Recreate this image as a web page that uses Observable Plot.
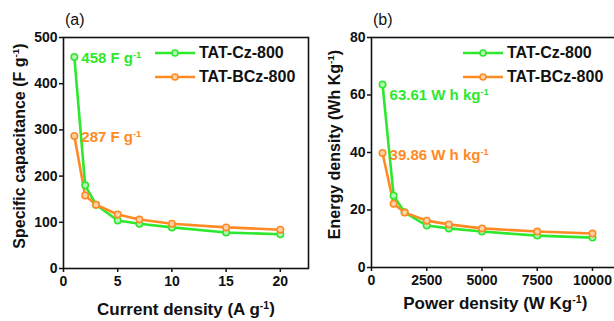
<!DOCTYPE html>
<html>
<head>
<meta charset="utf-8">
<script src="https://cdn.jsdelivr.net/npm/d3@7"></script>
<script src="https://cdn.jsdelivr.net/npm/@observablehq/plot@0.6"></script>
<style>
  body { margin: 0; background: #fff; }
  #wrap { position: relative; width: 614px; height: 321px; overflow: hidden; font-family: "Liberation Sans", Arial, sans-serif; }
  .panel { position: absolute; top: 0; }
  .plabel { position: absolute; font-size: 16px; color: #111; }
  .legend { position: absolute; font-size: 16px; font-weight: bold; color: #111; }
  .legend .row { display: flex; align-items: center; height: 24px; }
  .legend svg { margin-right: 4px; }
</style>
</head>
<body>
<div id="wrap"></div>
<script>
// ---- data ----
const seriesNames = ["TAT-Cz-800", "TAT-BCz-800"];
const seriesColors = ["#2de82d", "#ff8a24"];
const seriesFills = ["#b8f7b8", "#ffd3a8"];

const currentDensity = [1, 2, 3, 5, 7, 10, 15, 20];
const capacitanceCz = [458, 180, 138, 104, 97, 89, 78, 74];
const capacitanceBCz = [287, 158, 138, 117, 106, 97, 89, 84];
const capacitanceNotes = ["458 F g⁻¹", "287 F g⁻¹"];
const capTicks = [0, 100, 200, 300, 400, 500];
const currentTicks = [0, 5, 10, 15, 20];

const powerDensity = [500, 1000, 1500, 2500, 3500, 5000, 7500, 10000];
const energyCz = [63.61, 25, 19.2, 14.6, 13.6, 12.5, 11.1, 10.4];
const energyBCz = [39.86, 22.2, 19.1, 16.3, 15, 13.6, 12.5, 11.8];
const energyNotes = ["63.61 W h kg⁻¹", "39.86 W h kg⁻¹"];
const energyTicks = [0, 20, 40, 60, 80];
const powerTicks = [0, 2500, 5000, 7500, 10000];

// ---- helpers ----
function toRows(xs, ysList) {
  const rows = [];
  ysList.forEach((ys, s) => xs.forEach((x, i) => rows.push({x, y: ys[i], s: seriesNames[s]})));
  return rows;
}
function firstPoints(xs, ysList, notes) {
  return ysList.map((ys, s) => ({x: xs[0], y: ys[0], s: seriesNames[s], note: notes[s]}));
}
function superscripts(svg) {
  svg.querySelectorAll("text").forEach(t => {
    if (t.querySelector("tspan")) {
      t.querySelectorAll("tspan").forEach(sp => fix(sp));
    } else fix(t);
  });
  function fix(node) {
    const txt = node.textContent;
    const i = txt.indexOf("⁻¹");
    if (i < 0) return;
    node.textContent = "";
    const ns = "http://www.w3.org/2000/svg";
    const a = document.createElementNS(ns, "tspan"); a.textContent = txt.slice(0, i);
    const b = document.createElementNS(ns, "tspan"); b.textContent = "-1";
    b.setAttribute("font-size", "0.62em"); b.setAttribute("dy", "-0.55em");
    const c = document.createElementNS(ns, "tspan"); c.textContent = txt.slice(i + 2);
    c.setAttribute("dy", "0.34em");
    node.append(a, b, c);
  }
}
const fontStyle = {fontFamily: "'Liberation Sans', Arial, sans-serif", fontWeight: "bold", fontSize: "14px", color: "#111", background: "transparent", overflow: "visible"};

function panel({rows, firsts, noteDy, xDomain, yDomain, xTicks, yTicks, xLabel, yLabel, marginLeft, marginRight, marginBottom, yLabelOffset, xLabelOffset, yLabelShift}) {
  const colorScale = {domain: seriesNames, range: seriesColors};
  const svg = Plot.plot({
    width: 310, height: 321,
    marginLeft, marginRight, marginTop: 37, marginBottom,
    style: fontStyle,
    x: {domain: xDomain},
    y: {domain: yDomain},
    color: colorScale,
    marks: [
      Plot.frame({stroke: "#111", strokeWidth: 1.6}),
      Plot.axisY({ticks: yTicks, tickSize: 4, tickPadding: 2, tickFormat: d => String(d), label: yLabel, labelAnchor: "center", labelArrow: "none", labelOffset: yLabelOffset, fontSize: 14, strokeWidth: 1.5}),
      Plot.axisX({ticks: xTicks, tickSize: 4, tickPadding: 4, tickFormat: d => String(d), label: xLabel, labelAnchor: "center", labelArrow: "none", labelOffset: xLabelOffset, fontSize: 14, strokeWidth: 1.5}),
      Plot.line(rows, {x: "x", y: "y", z: "s", stroke: "s", strokeWidth: 2.6}),
      Plot.dot(rows, {x: "x", y: "y", stroke: "s", fill: d => seriesFills[seriesNames.indexOf(d.s)], r: 3.2, strokeWidth: 1.6}),
      ...firsts.map((f, i) => Plot.text([f], {x: "x", y: "y", text: "note", fill: "s", textAnchor: "start", dx: 7, dy: noteDy[i], fontSize: 15, fontWeight: "bold"}))
    ]
  });
  svg.querySelectorAll("[aria-label='x-axis label'] text").forEach(t => t.setAttribute("font-size", "17"));
  svg.querySelectorAll("[aria-label='y-axis label'] text").forEach(t => t.setAttribute("font-size", "16"));
  const yl = svg.querySelector("[aria-label='y-axis label']");
  if (yl) {
    const tr = yl.getAttribute("transform") || "";
    yl.setAttribute("transform", `translate(0,${yLabelShift}) ${tr}`);
  }
  superscripts(svg);
  return svg;
}

function legend(left, top) {
  const div = document.createElement("div");
  div.className = "legend";
  div.style.left = left + "px"; div.style.top = top + "px";
  seriesNames.forEach((name, i) => {
    const row = document.createElement("div"); row.className = "row";
    row.innerHTML = `<svg width="40" height="10"><line x1="0" x2="40" y1="5" y2="5" stroke="${seriesColors[i]}" stroke-width="2.6"/><circle cx="20" cy="5" r="3" stroke="${seriesColors[i]}" fill="${seriesFills[i]}" stroke-width="1.6"/></svg><span>${name}</span>`;
    div.append(row);
  });
  return div;
}

const wrap = document.getElementById("wrap");

const a = panel({
  rows: toRows(currentDensity, [capacitanceCz, capacitanceBCz]),
  firsts: firstPoints(currentDensity, [capacitanceCz, capacitanceBCz], capacitanceNotes),
  noteDy: [1, 1],
  xDomain: [0, 22.6], yDomain: [0, 500], xTicks: currentTicks, yTicks: capTicks,
  xLabel: "Current density (A g⁻¹)", yLabel: "Specific capacitance (F g⁻¹)",
  marginLeft: 63, marginRight: 2, marginBottom: 53, yLabelOffset: 50, xLabelOffset: 46, yLabelShift: -7
});
a.classList.add("panel"); a.style.left = "0px";
wrap.append(a);

const b = panel({
  rows: toRows(powerDensity, [energyCz, energyBCz]),
  firsts: firstPoints(powerDensity, [energyCz, energyBCz], energyNotes),
  noteDy: [11, 2],
  xDomain: [0, 11200], yDomain: [0, 80], xTicks: powerTicks, yTicks: energyTicks,
  xLabel: "Power density (W Kg⁻¹)", yLabel: "Energy density (Wh Kg⁻¹)",
  marginLeft: 61, marginRight: 1.5, marginBottom: 54, yLabelOffset: 43, xLabelOffset: 41, yLabelShift: -8
});
b.classList.add("panel"); b.style.left = "310px";
wrap.append(b);

wrap.append(legend(155, 41));
wrap.append(legend(463, 41));

const la = document.createElement("div"); la.className = "plabel"; la.textContent = "(a)"; la.style.left = "65px"; la.style.top = "11px"; wrap.append(la);
const lb = document.createElement("div"); lb.className = "plabel"; lb.textContent = "(b)"; lb.style.left = "373px"; lb.style.top = "11px"; wrap.append(lb);
</script>
</body>
</html>
